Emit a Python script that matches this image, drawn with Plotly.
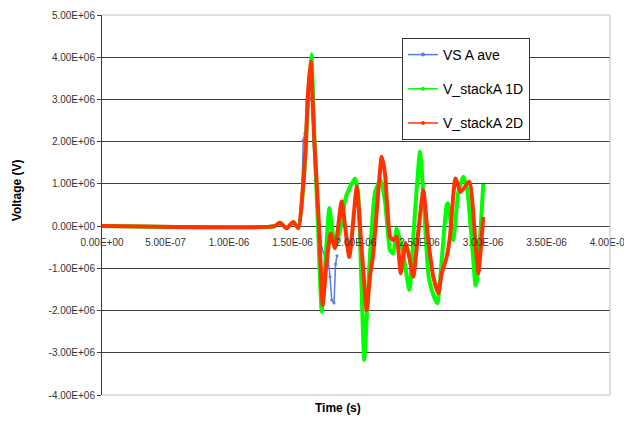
import plotly.graph_objects as go

# ---------------- data (time in microseconds, voltage in MV) ----------------
blue_t_us = [0.0, 1.36, 1.40, 1.454, 1.506, 1.546, 1.551, 1.559, 1.572, 1.585, 1.598, 1.612,
             1.632, 1.651, 1.664, 1.677, 1.691, 1.711, 1.730, 1.756, 1.776, 1.795, 1.809,
             1.827, 1.839, 1.850]
blue_v_mv = [0.0, 0.0, 0.08, -0.05, 0.10, -0.04, 0.0, 0.14, 0.69, 2.04, 2.20, 2.43,
             2.98, 3.06, 2.04, 1.09, 0.46, 0.0, -0.52, -0.73, -0.65, -1.20, -1.75,
             -1.82, -0.90, -0.70]

green_t_us = [0.0, 1.36, 1.40, 1.454, 1.506, 1.546, 1.587, 1.606, 1.622, 1.648, 1.673, 1.701,
              1.713, 1.730, 1.760, 1.790, 1.835, 1.874, 1.921, 1.992, 2.016, 2.039, 2.065,
              2.087, 2.110, 2.150, 2.194, 2.228, 2.268, 2.294, 2.320, 2.367, 2.420, 2.457,
              2.504, 2.535, 2.569, 2.596, 2.640, 2.675, 2.714, 2.724, 2.766, 2.806, 2.845,
              2.874, 2.921, 2.941, 2.953, 3.002]
green_v_mv = [0.0, 0.0, 0.08, -0.05, 0.10, -0.04, 1.0, 2.0, 3.0, 4.07, 2.0, 0.0,
              -1.0, -2.03, -0.80, 0.43, -0.52, -0.10, 0.70, 1.13, 0.80, -1.0, -3.17,
              -2.0, -0.70, 0.81, 1.09, 0.60, -0.57, -0.65, -0.05, -0.57, -1.51, 0.0,
              1.76, 0.50, -1.12, -1.51, -1.83, -0.80, 0.50, 0.54, -0.33, 0.81, 1.17,
              0.90, -0.70, -1.40, -1.28, 1.00]

red_t_us = [0.0, 1.36, 1.40, 1.454, 1.506, 1.546, 1.584, 1.606, 1.619, 1.643, 1.672, 1.691,
            1.709, 1.738, 1.764, 1.801, 1.835, 1.887, 1.947, 2.006, 2.039, 2.084, 2.110,
            2.136, 2.176, 2.202, 2.228, 2.268, 2.294, 2.320, 2.352, 2.390, 2.417, 2.451,
            2.488, 2.530, 2.569, 2.609, 2.648, 2.675, 2.714, 2.740, 2.783, 2.824, 2.892,
            2.937, 2.963, 3.002]
red_v_mv = [0.0, 0.0, 0.08, -0.05, 0.10, -0.05, 1.0, 2.0, 3.0, 3.90, 2.0, 1.0,
            0.0, -1.87, -1.0, -0.17, -0.52, 0.58, -0.73, 0.93, -0.30, -1.99, -1.20,
            -0.65, 0.85, 1.64, 1.25, -0.25, -0.33, -0.25, -1.12, -0.40, -0.70, -1.20,
            -0.20, 0.85, -0.33, -1.20, -1.59, -1.12, -0.73, -0.25, 1.13, 0.81, 1.05,
            -0.25, -1.12, 0.22]

series_names = ["VS A ave", "V_stackA 1D", "V_stackA 2D"]

x_tick_vals = [0.0, 5e-7, 1e-6, 1.5e-6, 2e-6, 2.5e-6, 3e-6, 3.5e-6, 4e-6]
x_tick_text = ["0.00E+00", "5.00E-07", "1.00E-06", "1.50E-06", "2.00E-06",
               "2.50E-06", "3.00E-06", "3.50E-06", "4.00E-06"]
y_tick_vals = [-4e6, -3e6, -2e6, -1e6, 0, 1e6, 2e6, 3e6, 4e6, 5e6]
y_tick_text = ["-4.00E+06", "-3.00E+06", "-2.00E+06", "-1.00E+06", "0.00E+00",
               "1.00E+06", "2.00E+06", "3.00E+06", "4.00E+06", "5.00E+06"]

x_title = "Time (s)"
y_title = "Voltage (V)"

# ---------------- unit conversion ----------------
def sec(lst):
    return [v * 1e-6 for v in lst]

def volt(lst):
    return [v * 1e6 for v in lst]

BLUE = "#5b7be8"
GREEN = "#00ff00"
RED = "#ff3300"
FONT = "Liberation Sans, Arial, sans-serif"

fig = go.Figure()

fig.add_trace(go.Scatter(x=sec(blue_t_us), y=volt(blue_v_mv), mode="lines+markers",
                         line=dict(color=BLUE, width=1.5), marker=dict(size=3, color=BLUE),
                         showlegend=False))
fig.add_trace(go.Scatter(x=sec(green_t_us), y=volt(green_v_mv), mode="lines",
                         line=dict(color=GREEN, width=4, shape="spline", smoothing=0.5),
                         showlegend=False))
fig.add_trace(go.Scatter(x=sec(red_t_us), y=volt(red_v_mv), mode="lines",
                         line=dict(color=RED, width=4, shape="spline", smoothing=0.5),
                         showlegend=False))

# legend-only entries (thin line with small marker, as in the reference legend)
for i, (name, col) in enumerate(zip(series_names, [BLUE, GREEN, RED])):
    fig.add_trace(go.Scatter(x=[None], y=[None], mode="lines+markers", name=name,
                             line=dict(color=col, width=1.5), marker=dict(size=4, color=col),
                             legendgroup="g%d" % i, showlegend=True))

y_min, y_max = -4e6, 5e6
fig.update_layout(
    width=624, height=416,
    margin=dict(l=94, r=22, t=7, b=29, autoexpand=False),
    paper_bgcolor="white", plot_bgcolor="white",
    font=dict(family=FONT, size=10, color="#333333"),
    legend=dict(x=0.5906, y=0.9395, xanchor="left", yanchor="top",
                bgcolor="white", bordercolor="#333333", borderwidth=1,
                font=dict(family=FONT, size=14, color="#000000"),
                traceorder="grouped", tracegroupgap=13, itemwidth=30),
    xaxis=dict(range=[0, 4e-6], tickvals=x_tick_vals, ticktext=x_tick_text,
               showgrid=False, zeroline=False, showline=False, automargin=False,
               anchor="free", position=(0 - y_min) / (y_max - y_min),
               ticks="outside", ticklen=7, tickcolor="rgba(0,0,0,0)",
               tickfont=dict(family=FONT, size=10, color="#333333")),
    yaxis=dict(range=[y_min, y_max], tickvals=y_tick_vals, ticktext=y_tick_text,
               showgrid=True, gridcolor="#404040", gridwidth=1, automargin=False,
               zeroline=False, showline=True, linecolor="#404040", linewidth=1,
               ticks="outside", ticklen=4, tickcolor="#404040",
               tickfont=dict(family=FONT, size=10, color="#333333")),
    shapes=[dict(type="path", xref="paper", yref="paper",
                 path="M 0,1 L 1,1 L 1,0 L 0,0",
                 line=dict(color="#c0c0c0", width=1), layer="above")],
    annotations=[
        dict(text="<b>%s</b>" % x_title, xref="paper", yref="paper", x=0.4646, y=0,
             xanchor="center", yanchor="middle", yshift=-13, showarrow=False,
             font=dict(family=FONT, size=12, color="#000000")),
        dict(text="<b>%s</b>" % y_title, xref="paper", yref="paper", x=0, y=0.539,
             xanchor="center", yanchor="middle", xshift=-85, textangle=-90,
             showarrow=False, font=dict(family=FONT, size=12, color="#000000")),
    ],
)

fig.write_html("out.html")
